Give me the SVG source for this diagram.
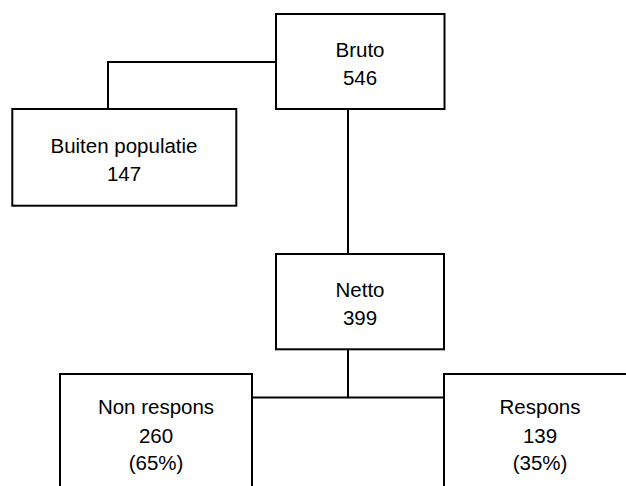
<svg xmlns="http://www.w3.org/2000/svg" width="626" height="486" viewBox="0 0 626 486">
<style>
.box{fill:#fff;stroke:#000;stroke-width:2}
.conn{fill:none;stroke:#000;stroke-width:2}
text{font-family:"Liberation Sans",Arial,sans-serif;font-size:20.5px;fill:#000;text-anchor:middle}
</style>
<rect width="626" height="486" fill="#fff"/>
<g id="connectors">
<polyline class="conn" points="276,62 108,62 108,109"/>
<line class="conn" x1="348" y1="109" x2="348" y2="254"/>
<line class="conn" x1="348" y1="349.3" x2="348" y2="397.5"/>
<line class="conn" x1="252" y1="397.5" x2="444" y2="397.5"/>
</g>
<g id="bruto">
<rect class="box" x="276" y="14" width="168.5" height="95"/>
<text x="360" y="57">Bruto</text>
<text x="360" y="85">546</text>
</g>
<g id="buiten">
<rect class="box" x="12.3" y="109" width="224" height="96.7"/>
<text x="124" y="152.7">Buiten populatie</text>
<text x="124" y="180.5">147</text>
</g>
<g id="netto">
<rect class="box" x="276" y="254" width="168" height="95.3"/>
<text x="360" y="297.3">Netto</text>
<text x="360" y="325">399</text>
</g>
<g id="nonrespons">
<rect class="box" x="60" y="374" width="192" height="130"/>
<text x="156" y="414.3">Non respons</text>
<text x="156" y="442.5">260</text>
<text x="156" y="470.3">(65%)</text>
</g>
<g id="respons">
<rect class="box" x="444" y="374" width="192" height="130"/>
<text x="540" y="414.3">Respons</text>
<text x="540" y="442.5">139</text>
<text x="540" y="470.3">(35%)</text>
</g>
</svg>
